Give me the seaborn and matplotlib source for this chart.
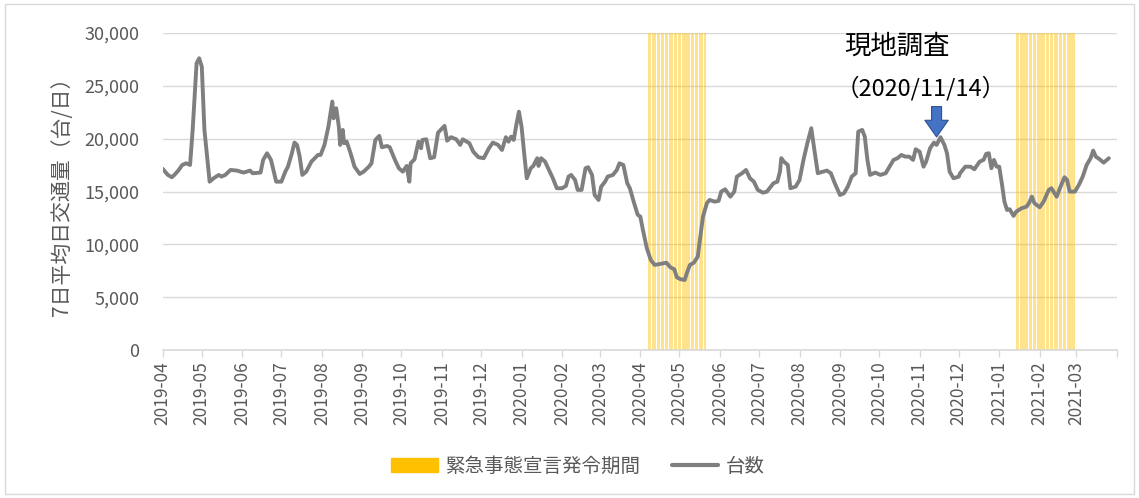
import pandas as pd
import matplotlib.pyplot as plt
import matplotlib.dates as mdates
from matplotlib.patches import Patch, Rectangle
from matplotlib.lines import Line2D
from matplotlib.ticker import FuncFormatter
import seaborn as sns

# days since 2019-04-01
days = [0, 4, 7, 9, 12, 15, 18, 21, 23, 26, 28, 30, 32, 36, 39, 43, 45, 48, 52, 57,
        62, 67, 69, 75, 77, 80, 83, 87, 91, 94, 96, 99, 101, 103, 105, 107, 110, 114, 119,
        121, 124, 127, 130, 131, 133, 135, 136, 138, 139, 141, 144, 147, 151, 154, 158,
        160, 163, 166, 168, 172, 174, 178, 181, 184, 187, 189, 190, 193, 196, 198, 199,
        202, 205, 208, 211, 216, 218, 221, 225, 228, 230, 233, 235, 238, 242, 246, 250,
        253, 257, 260, 263, 265, 267, 269, 271, 273, 275, 277, 279, 282, 284, 287, 288,
        290, 293, 296, 299, 302, 306, 309, 311, 313, 316, 318, 321, 324, 326, 329, 331,
        334, 336, 339, 341, 345, 348, 350, 353, 356, 358, 361, 364, 366, 368, 371, 374,
        377, 381, 386, 389, 392, 394, 397, 400, 402, 404, 407, 410, 412, 414, 417, 419,
        423, 426, 428, 431, 435, 438, 440, 444, 447, 450, 453, 456, 460, 463, 465, 468,
        471, 473, 474, 476, 479, 481, 485, 488, 491, 494, 497, 499, 502, 506, 509, 512,
        515, 519, 522, 525, 528, 531, 533, 536, 538, 540, 542, 546, 550, 554, 557, 560,
        563, 566, 569, 572, 575, 577, 580, 583, 585, 588, 591, 593, 596, 599, 601, 603,
        606, 610, 611, 615, 619, 622, 626, 629, 631, 633, 635, 637, 639, 641, 643, 645,
        647, 649, 652, 654, 658, 662, 664, 666, 668, 672, 675, 679, 681, 685, 688, 691,
        693, 695, 699, 702, 705, 708, 711, 713, 715, 718, 721, 725]
volume = [17150, 16570, 16350, 16570, 16980, 17510, 17670, 17510, 20830, 27140, 27610,
          26820, 20830, 15930, 16250, 16570, 16410, 16570, 17040, 16980, 16790, 16980,
          16730, 16790, 17990, 18620, 17990, 15930, 15930, 16880, 17350, 18620, 19630,
          19410, 18300, 16570, 16880, 17830, 18460, 18460, 19410, 21140, 23510, 21930,
          22880, 21140, 19410, 20830, 19570, 19720, 18620, 17350, 16660, 16880, 17350,
          17670, 19880, 20260, 19190, 19310, 19190, 17990, 17200, 16880, 17420, 15930,
          17670, 18050, 19720, 19090, 19880, 19940, 18150, 18240, 20570, 21210, 19810,
          20140, 19940, 19410, 19940, 19720, 19570, 18770, 18240, 18150, 19090, 19630,
          19410, 18930, 20140, 19720, 20190, 19880, 21300, 22560, 21140, 18620, 16250,
          17200, 17420, 18150, 17420, 18150, 17830, 17040, 16250, 15310, 15310, 15530,
          16410, 16570, 16090, 15150, 15150, 17200, 17300, 16570, 14670, 14200, 15460,
          15930, 16410, 16570, 17040, 17670, 17510, 15780, 15300, 14000, 12800, 12620,
          11360, 9630, 8520, 8050, 8140, 8260, 7830, 7640, 6880, 6690, 6630, 7410, 8050,
          8260, 8830, 10730, 12620, 13890, 14200, 14040, 14110, 14990, 15210, 14510,
          14990, 16410, 16730, 17040, 16250, 15930, 15150, 14890, 14990, 15310, 15780,
          15930, 16880, 18150, 17830, 17510, 15310, 15460, 16090, 17990, 19570, 20990,
          19250, 16730, 16880, 16980, 16730, 15780, 14670, 14830, 15460, 16410, 16730,
          20670, 20830, 20190, 17990, 16570, 16790, 16570, 16730, 17350, 17990, 18150,
          18460, 18300, 18300, 17990, 19000, 18770, 17350, 17830, 19090, 19630, 19410,
          20140, 19410, 18620, 16880, 16250, 16410, 16730, 17350, 17350, 17110, 17830,
          17990, 18560, 18620, 17200, 17990, 17350, 17350, 15780, 14040, 13250, 13320,
          12690, 13090, 13410, 13570, 13950, 14510, 13890, 13510, 14040, 15150, 15310,
          14510, 15460, 16350, 16090, 14990, 14990, 15620, 16410, 17510, 18150, 18870,
          18300, 18050, 17730, 18150]

# emergency declaration periods
emergency_start = ['2020-04-07', '2021-01-14']
emergency_end = ['2020-05-21', '2021-02-28']

survey_date = '2020-11-14'
survey_value = 19900

start = pd.Timestamp('2019-04-01')
df = pd.DataFrame({'date': start + pd.to_timedelta(days, unit='D'), 'volume': volume})

sns.set_theme(style='white')
plt.rcParams['font.family'] = ['Noto Sans CJK JP', 'DejaVu Sans']

fig = plt.figure(figsize=(11.39, 4.98), dpi=100)
ax = fig.add_axes([0.1428, 0.2972, 0.8376, 0.6365])

gray_txt = '#595959'
grid_c = '#D9D9D9'

# yellow emergency bars, one per day
for s, e in zip(emergency_start, emergency_end):
    d = pd.date_range(s, e, freq='D')
    ax.bar(d, [30000] * len(d), width=0.8, color='#FFC000', alpha=0.45,
           linewidth=0, zorder=1)

sns.lineplot(data=df, x='date', y='volume', ax=ax, color='#7F7F7F', lw=2.8, zorder=3)

ax.set_xlim(pd.Timestamp('2019-04-01'), pd.Timestamp('2021-04-01'))
ax.set_ylim(0, 30000)
ax.set_yticks(range(0, 30001, 5000))
ax.yaxis.set_major_formatter(FuncFormatter(lambda v, p: f'{int(v):,}'))
ax.xaxis.set_major_locator(mdates.MonthLocator())
# hide the last label (2021-04) at the axis end
ticks = ax.get_xticks()
ax.set_xticks(ticks)
labels = [mdates.num2date(t).strftime('%Y-%m') for t in ticks]
labels[-1] = ''
ax.set_xticklabels(labels, rotation=90)

ax.grid(axis='y', color=grid_c, lw=1, zorder=0)
ax.set_axisbelow(True)
for side in ['top', 'right', 'left']:
    ax.spines[side].set_visible(False)
ax.spines['bottom'].set_color(grid_c)
ax.spines['bottom'].set_linewidth(1.2)
ax.tick_params(axis='x', colors=gray_txt, labelsize=12.5, length=5, width=1,
               color=grid_c, pad=3, bottom=True)
ax.tick_params(axis='y', colors=gray_txt, labelsize=13, length=0, pad=17)
ax.set_xlabel('')
ax.set_ylabel('7日平均日交通量（台/日）', color=gray_txt, fontsize=15, labelpad=8)

# survey annotation
ax.annotate('', xy=(pd.Timestamp(survey_date), survey_value),
            xytext=(pd.Timestamp(survey_date), 23300),
            arrowprops=dict(arrowstyle='simple,head_width=1.4,head_length=1.0,tail_width=0.6',
                            fc='#4472C4', ec='#2F528F', lw=0.8), zorder=4)
ax.text(pd.Timestamp('2020-10-15'), 28800, '現地調査', fontsize=19, color='black',
        ha='center', va='center')
ax.text(pd.Timestamp('2020-11-02'), 24800, '（2020/11/14）', fontsize=17, color='black',
        ha='center', va='center')

handles = [Patch(color='#FFC000'), Line2D([], [], color='#7F7F7F', lw=3)]
fig.legend(handles, ['緊急事態宣言発令期間', '台数'], loc='center', ncol=2,
           bbox_to_anchor=(578 / 1139, 1 - 466 / 498), frameon=False, fontsize=14,
           handlelength=2.4, columnspacing=1.6, handletextpad=0.4,
           labelcolor=gray_txt)

fig.patches.append(Rectangle((0.004, 0.008), 0.992, 0.984, transform=fig.transFigure,
                             fill=False, ec=grid_c, lw=1))

plt.savefig('out.png', dpi=100)
